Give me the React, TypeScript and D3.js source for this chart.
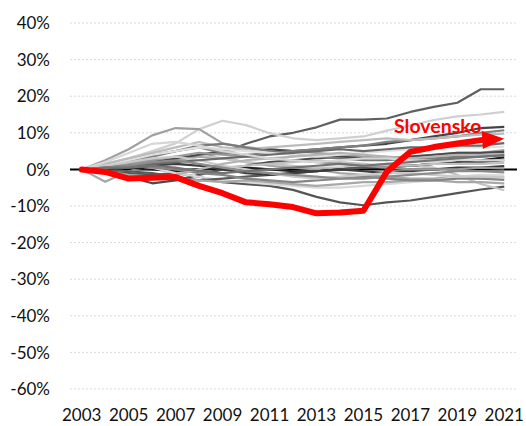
import React from 'react';
import * as d3 from 'd3';

const years = ['2003','2004','2005','2006','2007','2008','2009','2010','2011','2012','2013','2014','2015','2016','2017','2018','2019','2020','2021'];
const yTicks = [0.4, 0.3, 0.2, 0.1, 0, -0.1, -0.2, -0.3, -0.4, -0.5, -0.6];
const xLabels = ['2003','2005','2007','2009','2011','2013','2015','2017','2019','2021'];

// Slovensko, % change vs 2003
const slovensko = [0, -0.7, -2.5, -2.3, -2.1, -4.5, -6.5, -9.0, -9.5, -10.3, -12.0, -11.8, -11.3, -0.6, 4.8, 6.1, 7.1, 8.0, 8.4];

// other countries (grey lines)
const others = [
  [0, 1.0, 1.5, 2.5, 3.0, 3.5, 4.5, 7.0, 9.0, 10.0, 11.5, 13.6, 13.6, 13.9, 15.7, 17.1, 18.2, 21.9, 21.9],
  [0, 1.5, 3.0, 5.0, 7.1, 11.0, 13.3, 12.1, 9.9, 8.5, 8.0, 8.5, 9.0, 10.6, 12.0, 13.5, 14.5, 15.0, 15.7],
  [0, 2.5, 5.5, 9.3, 11.3, 11.0, 7.1, 6.0, 5.5, 5.0, 4.5, 4.0, 3.5, 3.0, 3.5, 4.0, 4.5, 4.5, 5.3],
  [0, -3.4, -0.5, 1.0, 2.5, 3.5, 3.0, 2.0, 1.0, 0.5, 0.0, -1.0, -1.5, -2.0, -2.5, -2.5, -2.0, -2.5, -2.2],
  [0, -0.5, -1.0, -1.5, -1.0, -2.0, -3.5, -4.0, -4.5, -5.6, -7.5, -9.0, -9.8, -9.0, -8.5, -7.5, -6.5, -5.5, -4.7],
  [0, 0.5, 1.5, 2.5, 3.5, 4.0, 3.0, 2.0, 1.5, 1.0, 0.5, 0.5, 1.0, 1.5, 1.0, 0.5, -1.5, -4.0, -5.7],
  [0, 0.5, 1.0, 2.0, 3.0, 4.0, 5.0, 5.5, 5.5, 5.0, 5.5, 6.0, 6.5, 7.0, 8.0, 9.0, 10.0, 11.3, 11.6],
  [0, 1.0, 2.0, 3.5, 5.0, 6.0, 4.5, 4.0, 4.5, 5.0, 5.5, 6.0, 6.5, 7.5, 8.0, 8.5, 9.0, 10.0, 10.7],
  [0, 1.5, 3.0, 4.5, 6.0, 7.5, 6.0, 5.5, 6.0, 6.5, 7.0, 7.5, 8.0, 8.5, 8.0, 8.5, 9.0, 9.5, 9.8],
  [0, 0.5, 0.5, 0.0, -0.5, 0.0, 0.5, 0.5, 0.0, -0.5, -0.5, 0.0, 0.5, 0.5, 1.0, 1.5, 2.0, 2.5, 3.3],
  [0, -0.5, -2.0, -3.8, -3.0, -1.5, 0.0, 1.0, 2.0, 2.5, 3.0, 3.5, 3.0, 3.0, 3.5, 4.0, 4.5, 4.5, 4.8],
  [0, 1.0, 2.5, 4.0, 5.0, 6.5, 7.0, 6.0, 5.0, 4.0, 3.5, 3.0, 2.5, 2.5, 3.0, 3.0, 3.5, 3.5, 3.9],
  [0, 0.5, 1.0, 0.5, -1.0, -2.0, -3.0, -3.5, -4.0, -4.5, -5.0, -5.0, -4.5, -4.0, -3.5, -3.0, -2.0, -1.5, -1.6],
  [0, 0.0, -0.5, -1.0, -2.0, -3.0, -2.5, -2.0, -1.5, -1.0, -0.5, 0.0, 0.5, 1.0, 1.0, 1.5, 1.5, 2.0, 2.5],
  [0, -0.5, -1.5, -2.0, -2.5, -3.0, -3.5, -3.0, -3.5, -4.0, -4.5, -4.0, -3.5, -3.5, -3.0, -3.0, -3.5, -3.5, -3.8],
  [0, 1.0, 1.5, 2.0, 1.5, 1.0, 0.5, 1.0, 1.5, 2.0, 2.5, 2.0, 1.5, 1.0, 1.0, 1.5, 1.5, 1.5, 1.8],
  [0, 0.5, 1.0, 0.5, 0.0, -1.0, -1.5, -2.5, -3.0, -3.5, -3.0, -2.5, -2.0, -2.5, -3.0, -3.0, -2.5, -2.5, -2.9],
  [0, 1.0, 2.5, 4.0, 5.0, 6.0, 5.5, 5.0, 4.5, 4.0, 3.5, 4.0, 4.5, 5.0, 5.5, 5.5, 6.0, 6.0, 6.2],
  [0, 0.0, 0.5, 1.0, 1.5, 1.0, 0.0, -1.0, -1.5, -1.0, -0.5, 0.0, -0.5, -1.0, -0.5, 0.0, 0.5, 0.5, 0.9],
  [0, 0.5, 1.5, 2.5, 3.5, 4.5, 4.0, 3.5, 3.0, 2.5, 2.0, 1.5, 1.0, 0.5, 0.0, 0.0, 0.0, 0.5, 0.3],
  [0, 1.0, 2.0, 3.0, 3.5, 2.5, 1.0, 0.0, -1.0, -2.0, -2.5, -2.0, -1.5, -1.0, -1.0, -1.5, -2.0, -2.0, -2.2],
  [0, 0.5, 1.0, 1.5, 2.0, 2.5, 3.0, 3.5, 4.0, 4.5, 5.0, 5.5, 5.0, 5.5, 6.0, 6.0, 6.5, 6.5, 7.2],
  [0, -1.0, -2.0, -2.5, -1.5, 0.0, 1.5, 2.5, 3.0, 3.5, 4.0, 4.5, 4.0, 3.5, 3.0, 3.5, 4.0, 4.0, 4.2],
  [0, 0.5, 1.0, 2.0, 2.5, 1.5, 0.5, -0.5, -1.0, -1.5, -2.0, -2.5, -2.5, -2.0, -1.5, -1.0, -0.5, -0.5, -0.8],
  [0, 2.0, 4.5, 7.0, 7.5, 6.5, 5.0, 4.0, 3.0, 2.5, 2.0, 2.5, 3.0, 3.0, 2.5, 2.0, 2.5, 2.5, 2.5],
  [0, 0.5, 0.5, 1.0, 0.5, -0.5, -1.0, -0.5, 0.0, 0.5, 1.0, 1.5, 1.0, 1.5, 2.0, 2.5, 3.0, 3.5, 3.9],
];
const greys = ['#5f5f5f','#d0d0d0','#a0a0a0','#a6a6a6','#555555','#c4c4c4','#444444','#808080','#bcbcbc','#222222','#4a4a4a','#7a7a7a','#d9d9d9','#5a5a5a','#a8a8a8','#c0c0c0','#858585','#e0e0e0','#3c3c3c','#999999','#cacaca','#6a6a6a','#b3b3b3','#8c8c8c','#d6d6d6','#737373'];

const W = 526, H = 426;
const left = 70, right = 516, top = 23, bottom = 389;
const font = 'Lato, "Open Sans", sans-serif';

export default function App() {
  const x = d3.scalePoint<string>().domain(years).range([left, right]).padding(0.5);
  const y = d3.scaleLinear().domain([-0.6, 0.4]).range([bottom, top]);
  const line = d3.line<number>().x((_, i) => x(years[i]) as number).y(d => y(d / 100));

  // red line ends in an arrow whose tip sits on the 2021 point
  const pts = slovensko.map((v, i) => [x(years[i]) as number, y(v / 100)]);
  const [tx, ty] = pts[pts.length - 1];
  const [px, py] = pts[pts.length - 2];
  const len = Math.hypot(tx - px, ty - py);
  const ux = (tx - px) / len, uy = (ty - py) / len;
  const headLen = 22, headHalf = 9;
  const bx = tx - ux * headLen, by = ty - uy * headLen;
  const redPts = pts.slice(0, -1).concat([[tx - ux * 15, ty - uy * 15]]);
  const redPath = d3.line()(redPts as [number, number][]);
  const arrow = `M${tx},${ty} L${bx - uy * headHalf},${by + ux * headHalf} L${bx + uy * headHalf},${by - ux * headHalf} Z`;

  return (
    <svg width={W} height={H} style={{ position: 'absolute', left: 0, top: 0, background: '#fff' }}>
      {yTicks.filter(t => t !== 0).map(t => (
        <line key={t} x1={left} x2={right + 1} y1={y(t)} y2={y(t)} stroke="#d9d9d9" strokeWidth={1} strokeDasharray="2,2" />
      ))}
      {yTicks.map(t => (
        <text key={'l' + t} x={50} y={y(t)} dy="0.36em" textAnchor="end" fontFamily={font} fontSize={17} fill="#111">
          {d3.format('.0%')(t).replace('−', '-')}
        </text>
      ))}
      {xLabels.map(l => (
        <text key={l} x={x(l)} y={421} textAnchor="middle" fontFamily={font} fontSize={17} fill="#111">{l}</text>
      ))}
      <line x1={left} x2={right + 1} y1={y(0)} y2={y(0)} stroke="#000" strokeWidth={2} />
      {others.map((s, i) => (
        <path key={i} d={line(s) || ''} fill="none" stroke={greys[i]} strokeWidth={2.2} strokeLinejoin="round" />
      ))}
      <path d={redPath || ''} fill="none" stroke="#ff0000" strokeWidth={6} strokeLinejoin="round" strokeLinecap="round" />
      <path d={arrow} fill="#ff0000" />
      <text x={394} y={133} fontFamily={font} fontWeight="bold" fontSize={19.5} fill="#ff0000">Slovensko</text>
    </svg>
  );
}
